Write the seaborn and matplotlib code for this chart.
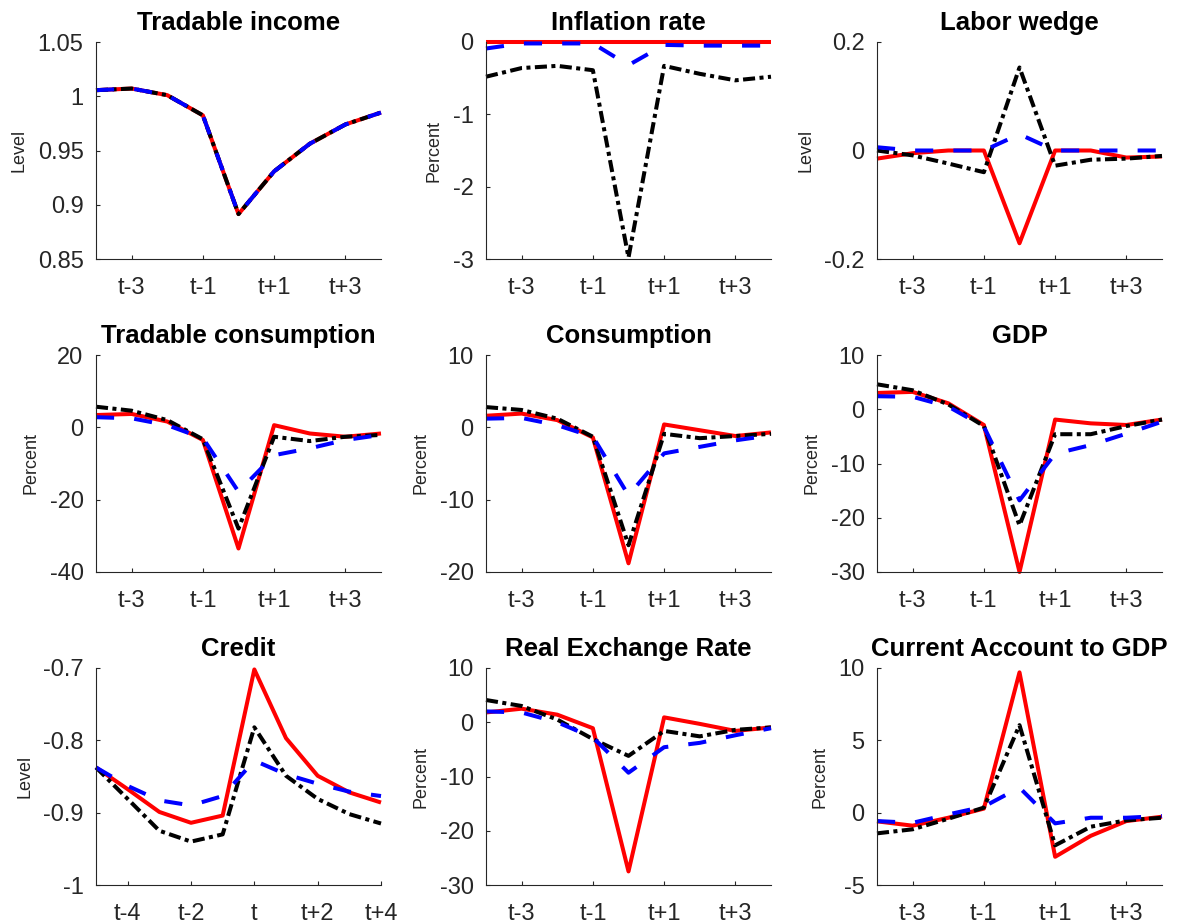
import matplotlib
matplotlib.use("Agg")
import matplotlib.pyplot as plt
import seaborn as sns

# Event window around the crisis period t
periods = [-4, -3, -2, -1, 0, 1, 2, 3, 4]
credit_periods = [-5, -4, -3, -2, -1, 0, 1, 2, 3, 4]

titles = ["Tradable income", "Inflation rate", "Labor wedge",
          "Tradable consumption", "Consumption", "GDP",
          "Credit", "Real Exchange Rate", "Current Account to GDP"]
units = ["Level", "Percent", "Level",
         "Percent", "Percent", "Percent",
         "Level", "Percent", "Percent"]

# Three model variants per variable: a (solid red), b (dash-dot black), c (dashed blue)
income_a = [1.0056, 1.0071, 1.0010, 0.9824, 0.8914, 0.9308, 0.9562, 0.9740, 0.9850]
income_b = [1.0056, 1.0071, 1.0010, 0.9824, 0.8914, 0.9308, 0.9562, 0.9740, 0.9850]
income_c = [1.0056, 1.0071, 1.0010, 0.9824, 0.8914, 0.9308, 0.9562, 0.9740, 0.9850]

inflation_a = [0.0, 0.0, 0.0, 0.0, 0.0, 0.0, 0.0, 0.0, 0.0]
inflation_b = [-0.48, -0.36, -0.33, -0.39, -2.98, -0.33, -0.44, -0.53, -0.48]
inflation_c = [-0.09, -0.02, -0.02, -0.02, -0.32, -0.04, -0.05, -0.05, -0.05]

wedge_a = [-0.015, -0.005, 0.0, 0.0, -0.171, 0.0, 0.0, -0.013, -0.011]
wedge_b = [0.0, -0.009, -0.024, -0.040, 0.153, -0.028, -0.017, -0.015, -0.010]
wedge_c = [0.006, 0.0, 0.0, 0.0, 0.030, 0.0, 0.0, 0.0, 0.0]

tcons_a = [3.4, 3.7, 1.6, -3.5, -33.5, 0.6, -1.7, -2.6, -1.7]
tcons_b = [5.7, 4.6, 2.0, -3.3, -28.0, -2.6, -3.8, -2.6, -2.1]
tcons_c = [2.8, 2.5, 0.6, -3.0, -17.8, -7.7, -5.8, -3.5, -2.1]

cons_a = [1.6, 1.9, 1.0, -1.4, -18.8, 0.4, -0.4, -1.2, -0.7]
cons_b = [2.8, 2.4, 1.2, -1.3, -16.3, -0.9, -1.5, -1.2, -0.9]
cons_c = [1.2, 1.3, 0.3, -1.3, -9.4, -3.6, -2.7, -1.8, -1.1]

gdp_a = [3.0, 3.2, 1.1, -2.9, -30.0, -1.9, -2.6, -2.9, -1.9]
gdp_b = [4.6, 3.5, 0.9, -3.1, -21.4, -4.6, -4.6, -3.1, -1.9]
gdp_c = [2.4, 2.3, 0.5, -3.2, -16.8, -8.2, -6.6, -4.5, -2.3]

credit_a = [-0.8375, -0.8675, -0.899, -0.914, -0.904, -0.702, -0.797, -0.849, -0.872, -0.886]
credit_b = [-0.8375, -0.881, -0.925, -0.940, -0.930, -0.782, -0.849, -0.881, -0.902, -0.915]
credit_c = [-0.8375, -0.863, -0.883, -0.890, -0.877, -0.828, -0.847, -0.860, -0.871, -0.877]

rer_a = [1.8, 2.5, 1.4, -1.1, -27.5, 0.9, -0.3, -1.6, -0.95]
rer_b = [4.1, 3.0, 0.5, -3.1, -6.2, -1.6, -2.6, -1.4, -0.95]
rer_c = [2.0, 1.8, 0.0, -2.8, -9.3, -4.6, -3.8, -2.4, -1.1]

ca_a = [-0.60, -0.90, -0.35, 0.28, 9.70, -3.05, -1.60, -0.58, -0.28]
ca_b = [-1.43, -1.15, -0.42, 0.35, 6.05, -2.26, -0.97, -0.53, -0.35]
ca_c = [-0.58, -0.70, -0.12, 0.42, 1.73, -0.74, -0.35, -0.35, -0.23]

# Axis ticks
yticks_income = [0.85, 0.9, 0.95, 1.0, 1.05]
yticks_inflation = [-3, -2, -1, 0]
yticks_wedge = [-0.2, 0.0, 0.2]
yticks_tcons = [-40, -20, 0, 20]
yticks_cons = [-20, -10, 0, 10]
yticks_gdp = [-30, -20, -10, 0, 10]
yticks_credit = [-1.0, -0.9, -0.8, -0.7]
yticks_rer = [-30, -20, -10, 0, 10]
yticks_ca = [-5, 0, 5, 10]

xticks_main = [-3, -1, 1, 3]
xticks_credit = [-4, -2, 0, 2, 4]

panels = [
    (periods, (income_a, income_b, income_c), yticks_income, xticks_main),
    (periods, (inflation_a, inflation_b, inflation_c), yticks_inflation, xticks_main),
    (periods, (wedge_a, wedge_b, wedge_c), yticks_wedge, xticks_main),
    (periods, (tcons_a, tcons_b, tcons_c), yticks_tcons, xticks_main),
    (periods, (cons_a, cons_b, cons_c), yticks_cons, xticks_main),
    (periods, (gdp_a, gdp_b, gdp_c), yticks_gdp, xticks_main),
    (credit_periods, (credit_a, credit_b, credit_c), yticks_credit, xticks_credit),
    (periods, (rer_a, rer_b, rer_c), yticks_rer, xticks_main),
    (periods, (ca_a, ca_b, ca_c), yticks_ca, xticks_main),
]

sns.set_theme(style="ticks")
dark = (0.15, 0.15, 0.15)
plt.rcParams.update({
    "font.family": ["Liberation Sans", "DejaVu Sans"],
    "axes.unicode_minus": False,
    "axes.edgecolor": dark,
    "axes.linewidth": 0.8,
    "xtick.color": dark,
    "ytick.color": dark,
    "xtick.labelcolor": dark,
    "ytick.labelcolor": dark,
    "xtick.direction": "in",
    "ytick.direction": "in",
    "xtick.major.size": 3,
    "ytick.major.size": 3,
    "xtick.major.width": 0.8,
    "ytick.major.width": 0.8,
})

line_styles = [
    dict(color=(1, 0, 0), linestyle="-"),
    dict(color=(0, 0, 0), linestyle=(0, (3.0, 1.1, 1.0, 1.1))),
    dict(color=(0, 0, 1), linestyle=(0, (4.5, 5.0))),
]


def period_label(k):
    return "t" if k == 0 else f"t{k:+d}"


W, H = 1188, 924
fig = plt.figure(figsize=(W / 100, H / 100), dpi=100)
col_left = [96, 486, 877]
row_top = [42, 355, 668]
ax_w, ax_h = 285, 217

for i, (x, series, yticks, xticks) in enumerate(panels):
    r, c = divmod(i, 3)
    ax = fig.add_axes([col_left[c] / W, 1 - (row_top[r] + ax_h) / H,
                       ax_w / W, ax_h / H])
    for ys, st in zip(series, line_styles):
        sns.lineplot(x=x, y=ys, ax=ax, lw=2.9, sort=False, clip_on=False,
                     solid_capstyle="butt", **st)
    ax.set_xlim(x[0], x[-1])
    ax.set_ylim(yticks[0], yticks[-1])
    ax.set_yticks(yticks)
    ax.set_yticklabels([f"{v:g}" for v in yticks])
    ax.set_xticks(xticks)
    ax.set_xticklabels([period_label(k) for k in xticks])
    ax.tick_params(axis="x", labelsize=17, pad=13)
    ax.tick_params(axis="y", labelsize=17, pad=9)
    ax.set_ylabel(units[i], fontsize=13, labelpad=7, color=dark)
    ax.set_title(titles[i], fontsize=18.5, fontweight="bold", pad=8.5,
                 color="black")
    sns.despine(ax=ax)

fig.savefig("out.png", dpi=100)
